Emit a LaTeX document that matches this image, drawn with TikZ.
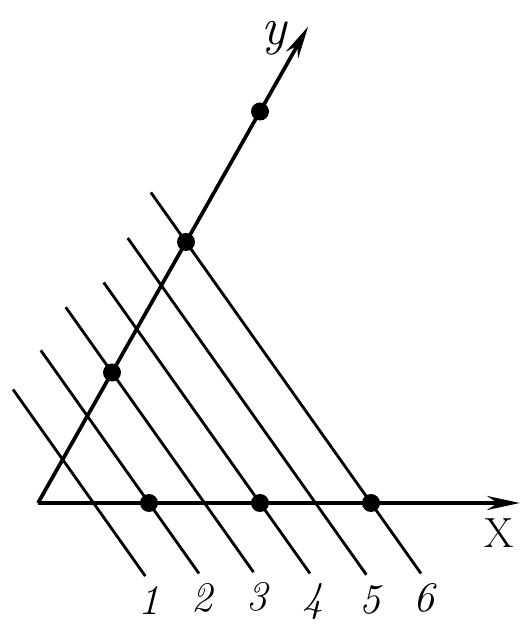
\documentclass[tikz,border=0pt]{standalone}
\usepackage{tikz}
\usetikzlibrary{arrows.meta, positioning}

\begin{document}
\begin{tikzpicture}[
  axis/.style={line width=2.1pt, -{Stealth[length=6.5mm, width=2.8mm]}},
  family/.style={line width=1.6pt},
  dot/.style={circle, fill=black, inner sep=0pt, minimum size=0.36cm},
  num label/.style={font=\fontsize{24}{26}\selectfont\itshape, inner sep=0pt}
]
\useasboundingbox (0,0) rectangle (10.44,12.5);
\begin{scope}[shift={(0.76,2.44)}, x={(2.22cm,0cm)}, y={(1.48cm,2.61cm)}]
\coordinate (o) at (0,0);
\coordinate (xtip) at (4.34,0);
\coordinate (ytip) at (0,3.65);
\draw[axis] (o) -- (xtip);
\draw[axis] (o) -- (ytip);
% lines 2x+3y=c, c=1..6
\foreach \c/\t/\b in {1/0.87/-0.56, 2/1.17/-0.54, 3/1.5/-0.53, 4/1.69/-0.54, 5/2.03/-0.55, 6/2.38/-0.54} {
  \coordinate (s\c) at ({(\c-3*\t)/2}, \t);
  \coordinate (e\c) at ({(\c-3*\b)/2}, \b);
  \draw[family] (s\c) -- (e\c);
  \node[num label, below=0.2cm of e\c, xshift=2pt] (n\c) {\c};
}
\foreach \k in {1,2,3} {
  \node[dot] (xd\k) at (\k,0) {};
  \node[dot] (yd\k) at (0,\k) {};
}
\node[font=\fontsize{24}{26}\selectfont, inner sep=0pt, below left=0.3cm and 0.12cm of xtip] (xlab) {X};
\node[font=\fontsize{30}{32}\selectfont\itshape, inner sep=0pt, left=0.42cm of ytip, yshift=-0.24cm] (ylab) {y};
\end{scope}
\end{tikzpicture}
\end{document}
